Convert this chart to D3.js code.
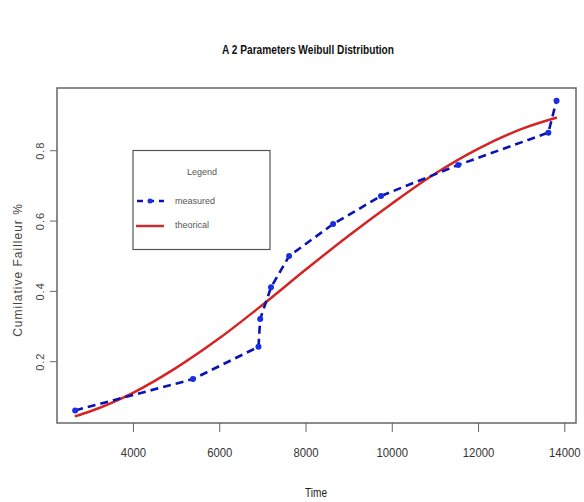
<!DOCTYPE html>
<html>
<head>
<meta charset="utf-8">
<script src="https://cdn.jsdelivr.net/npm/d3@7"></script>
<style>
  body { margin: 0; background: #fff; }
  text { font-family: "Liberation Sans Narrow", "Liberation Sans", Arial, sans-serif; }
</style>
</head>
<body>
<script>
// measured points (time, cumulative failure)
var measuredTime = [2660, 5390, 6910, 6950, 7200, 7620, 8640, 9750, 11540, 13630, 13820];
var measuredValue = [0.060, 0.149, 0.241, 0.320, 0.410, 0.499, 0.590, 0.670, 0.758, 0.850, 0.941];

// theoretical curve
var theoTime = [2650, 3000, 4000, 5000, 6000, 7000, 8000, 9000, 10000, 11000, 12000, 13000, 13830];
var theoValue = [0.043, 0.057, 0.110, 0.181, 0.265, 0.360, 0.460, 0.557, 0.648, 0.733, 0.804, 0.860, 0.893];

var xTicks = [4000, 6000, 8000, 10000, 12000, 14000];
var yTicks = [0.2, 0.4, 0.6, 0.8];

(function () {

var width = 584, height = 502;
var pLeft = 57, pRight = 576, pTop = 88, pBottom = 423;

var svg = d3.select("body").append("svg")
  .attr("width", width)
  .attr("height", height);

var x = d3.scaleLinear().domain([2239, 14271]).range([pLeft, pRight]);
var y = d3.scaleLinear().domain([0.0242, 0.977]).range([pBottom, pTop]);

// title
svg.append("text")
  .attr("x", 308).attr("y", 54)
  .attr("text-anchor", "middle")
  .attr("font-size", 13)
  .attr("font-weight", "bold")
  .attr("fill", "#111")
  .attr("textLength", 172)
  .attr("lengthAdjust", "spacingAndGlyphs")
  .text("A 2 Parameters Weibull Distribution");

// axes
var xAxis = svg.append("g")
  .attr("transform", "translate(0," + pBottom + ")")
  .call(d3.axisBottom(x).tickValues(xTicks).tickSize(9).tickPadding(16).tickFormat(d3.format("d")));
xAxis.select(".domain").remove();
xAxis.selectAll("line").attr("stroke", "#666");
xAxis.selectAll("text")
  .attr("font-size", 12)
  .attr("fill", "#333")
  .attr("textLength", function(d) { return String(d).length * 6.3 })
  .attr("lengthAdjust", "spacingAndGlyphs");

var yAxis = svg.append("g")
  .attr("transform", "translate(" + pLeft + ",0)")
  .call(d3.axisLeft(y).tickValues(yTicks).tickSize(7).tickFormat(d3.format(".1f")));
yAxis.select(".domain").remove();
yAxis.selectAll("line").attr("stroke", "#666");
yAxis.selectAll("text")
  .attr("font-family", "DejaVu Sans, sans-serif")
  .attr("font-size", 11)
  .attr("fill", "#444")
  .attr("letter-spacing", 1)
  .attr("text-anchor", "middle")
  .attr("x", 0).attr("y", 0).attr("dy", 0)
  .attr("transform", "translate(-13,0) rotate(-90)");

// plot box
svg.append("rect")
  .attr("x", pLeft).attr("y", pTop)
  .attr("width", pRight - pLeft).attr("height", pBottom - pTop)
  .attr("fill", "none")
  .attr("stroke", "#666")
  .attr("stroke-width", 1.5);

// axis titles
svg.append("text")
  .attr("x", 316).attr("y", 497)
  .attr("text-anchor", "middle")
  .attr("font-size", 13)
  .attr("fill", "#222")
  .attr("textLength", 22)
  .attr("lengthAdjust", "spacingAndGlyphs")
  .text("Time");

svg.append("text")
  .attr("transform", "translate(22,270) rotate(-90)")
  .attr("text-anchor", "middle")
  .attr("font-family", "DejaVu Sans, sans-serif")
  .attr("font-size", 12)
  .attr("letter-spacing", 1)
  .attr("fill", "#444")
  .text("Cumilative  Failleur %");

var theo = theoTime.map(function(t, i) { return [t, theoValue[i]] });
var measured = measuredTime.map(function(t, i) { return [t, measuredValue[i]] });

var line = d3.line()
  .x(function(d) { return x(d[0]) })
  .y(function(d) { return y(d[1]) });

// theoretical curve
svg.append("path")
  .datum(theo)
  .attr("d", line.curve(d3.curveMonotoneX))
  .attr("fill", "none")
  .attr("stroke", "#d42424")
  .attr("stroke-width", 2.5);

// measured
svg.append("path")
  .datum(measured)
  .attr("d", line.curve(d3.curveLinear))
  .attr("fill", "none")
  .attr("stroke", "#0a14b4")
  .attr("stroke-width", 2.6)
  .attr("stroke-dasharray", "8,5");

svg.selectAll(".pt")
  .data(measured)
  .enter().append("circle")
  .attr("class", "pt")
  .attr("cx", function(d) { return x(d[0]) })
  .attr("cy", function(d) { return y(d[1]) })
  .attr("r", 3)
  .attr("fill", "#1a2ee0");

// legend
var lg = svg.append("g");
lg.append("rect")
  .attr("x", 133).attr("y", 150.5)
  .attr("width", 137).attr("height", 99)
  .attr("fill", "#fff")
  .attr("stroke", "#555")
  .attr("stroke-width", 1.2);

lg.append("text")
  .attr("x", 202).attr("y", 175)
  .attr("text-anchor", "middle")
  .attr("font-size", 9)
  .attr("fill", "#555")
  .text("Legend");

lg.append("line")
  .attr("x1", 137).attr("x2", 164).attr("y1", 201).attr("y2", 201)
  .attr("stroke", "#0a14b4").attr("stroke-width", 2.6)
  .attr("stroke-dasharray", "6,5");
lg.append("circle")
  .attr("cx", 150).attr("cy", 201).attr("r", 2.5)
  .attr("fill", "#1a2ee0");
lg.append("text")
  .attr("x", 175).attr("y", 204)
  .attr("font-size", 9)
  .attr("fill", "#555")
  .text("measured");

lg.append("line")
  .attr("x1", 136).attr("x2", 164).attr("y1", 226).attr("y2", 226)
  .attr("stroke", "#c83030").attr("stroke-width", 2.5);
lg.append("text")
  .attr("x", 175).attr("y", 228)
  .attr("font-size", 9)
  .attr("fill", "#555")
  .text("theorical");

}())
</script>
</body>
</html>
